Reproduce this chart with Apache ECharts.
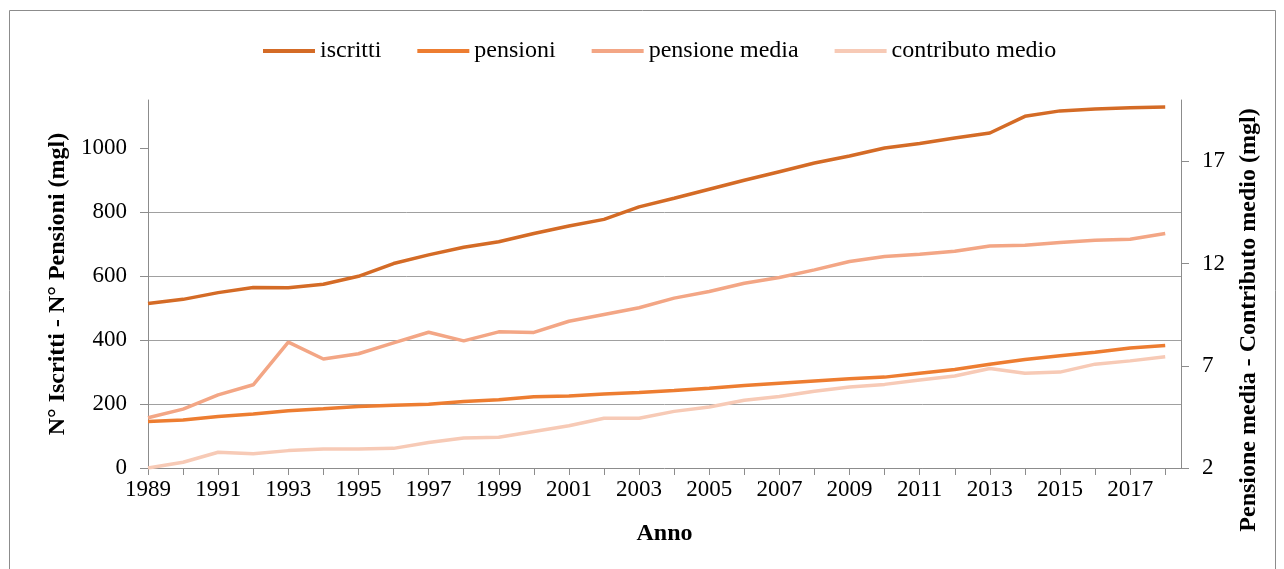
<!DOCTYPE html>
<html>
<head>
<meta charset="utf-8">
<script src="https://cdn.jsdelivr.net/npm/echarts@6/dist/echarts.min.js"></script>
<style>
html,body{margin:0;padding:0;background:#fff;}
#c{width:1284px;height:569px;}
</style>
</head>
<body>
<div id="c"></div>
<script>
const years = [1989,1990,1991,1992,1993,1994,1995,1996,1997,1998,1999,2000,2001,2002,2003,2004,2005,2006,2007,2008,2009,2010,2011,2012,2013,2014,2015,2016,2017,2018];
const iscritti = [514,527,548,564,563,574,599,639,666,690,707,733,756,777,816,843,871,899,926,953,975,1000,1014,1031,1047,1099,1116,1122,1126,1128];
const pensioni = [145,150,161,169,179,185,192,196,199,208,213,223,225,231,236,242,249,258,265,272,279,284,296,308,324,339,351,362,375,383];
const pensioneMedia = [4.46,4.88,5.58,6.07,8.16,7.33,7.59,8.12,8.64,8.22,8.66,8.63,9.18,9.51,9.84,10.31,10.63,11.04,11.32,11.69,12.10,12.35,12.46,12.60,12.86,12.89,13.03,13.14,13.19,13.47];
const contributoMedio = [2.0,2.28,2.77,2.70,2.85,2.93,2.93,2.96,3.25,3.47,3.50,3.79,4.07,4.43,4.43,4.77,4.98,5.31,5.50,5.75,5.96,6.09,6.30,6.50,6.87,6.63,6.69,7.08,7.24,7.44];
const leftTicks = [0,200,400,600,800,1000];
const rightTicks = [2,7,12,17];

const FONT = 'Liberation Serif';
const pairs = arr => years.map((y,i)=>[y,arr[i]]);
const gridColor = '#a0a0a0';
const axisColor = '#8c8c8c';

const chart = echarts.init(document.getElementById('c'), null, {renderer:'canvas'});
chart.setOption({
  animation:false,
  backgroundColor:'#fff',
  graphic:[
    {type:'rect',shape:{x:9.5,y:10.5,width:1266,height:570},style:{fill:'none',stroke:'#8c8c8c',lineWidth:1},silent:true},
    {type:'text',x:1249,y:320,rotation:Math.PI/2,silent:true,
      style:{text:'Pensione media - Contributo medio (mgl)',font:'bold 24px "Liberation Serif"',fill:'#000',textAlign:'center',textVerticalAlign:'middle'}}
  ],
  legend:{
    top:34,left:258,
    itemWidth:52,itemHeight:4,itemGap:36,icon:'rect',
    textStyle:{fontFamily:FONT,fontSize:24,color:'#000'},
    data:['iscritti','pensioni','pensione media','contributo medio']
  },
  grid:{left:148,right:103,top:100,bottom:101,containLabel:false},
  xAxis:{
    type:'value',min:1989,max:2018.45,interval:1,
    name:'Anno',nameLocation:'middle',nameGap:54,
    nameTextStyle:{fontFamily:FONT,fontSize:24,fontWeight:'bold',color:'#000'},
    axisLine:{show:true,lineStyle:{color:axisColor,width:1}},
    axisTick:{show:true,length:7,lineStyle:{color:axisColor}},
    axisLabel:{fontFamily:FONT,fontSize:23,color:'#000',margin:10,showMaxLabel:false,
      formatter:v=> (Math.abs(v-Math.round(v))<1e-6 && Math.round(v)%2===1 && v<=2018) ? String(Math.round(v)) : ''},
    splitLine:{show:false}
  },
  yAxis:[{
    type:'value',min:0,max:1150,interval:200,position:'left',
    name:'N° Iscritti - N° Pensioni (mgl)',nameLocation:'middle',nameRotate:90,nameGap:76,
    nameTextStyle:{fontFamily:FONT,fontSize:24,fontWeight:'bold',color:'#000'},
    axisLine:{show:true,lineStyle:{color:axisColor,width:1}},
    axisTick:{show:true,length:8,lineStyle:{color:axisColor},customValues:leftTicks},
    axisLabel:{fontFamily:FONT,fontSize:23,color:'#000',margin:21,customValues:leftTicks,
      formatter:v=> v<=1000 ? String(v) : ''},
    splitLine:{show:true,showMinLine:false,showMaxLine:false,lineStyle:{color:gridColor,width:1}}
  },{
    type:'value',min:2,max:20,interval:5,position:'right',
    axisLine:{show:true,lineStyle:{color:axisColor,width:1}},
    axisTick:{show:true,length:8,lineStyle:{color:axisColor},customValues:rightTicks},
    axisLabel:{fontFamily:FONT,fontSize:23,color:'#000',margin:21,customValues:rightTicks,
      formatter:v=> v<=17 ? String(v) : ''},
    splitLine:{show:false}
  }],
  series:[
    {name:'iscritti',type:'line',yAxisIndex:0,data:pairs(iscritti),symbol:'none',
      lineStyle:{width:3.5,color:'#d46b26'},itemStyle:{color:'#d46b26'}},
    {name:'pensioni',type:'line',yAxisIndex:0,data:pairs(pensioni),symbol:'none',
      lineStyle:{width:3.5,color:'#ed7d31'},itemStyle:{color:'#ed7d31'}},
    {name:'pensione media',type:'line',yAxisIndex:1,data:pairs(pensioneMedia),symbol:'none',
      lineStyle:{width:3.5,color:'#f3a685'},itemStyle:{color:'#f3a685'}},
    {name:'contributo medio',type:'line',yAxisIndex:1,data:pairs(contributoMedio),symbol:'none',
      lineStyle:{width:3.5,color:'#f7cab6'},itemStyle:{color:'#f7cab6'}}
  ]
});
</script>
</body>
</html>
